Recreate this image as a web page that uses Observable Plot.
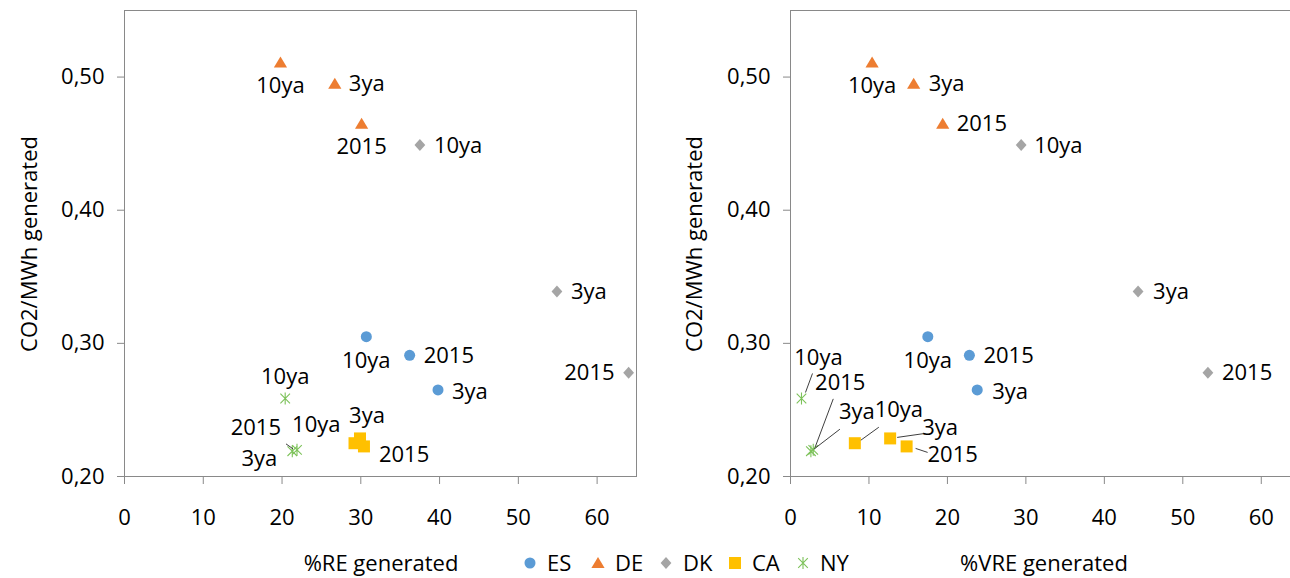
<!DOCTYPE html>
<html><head><meta charset="utf-8">
<script src="https://cdn.jsdelivr.net/npm/d3@7"></script>
<script src="https://cdn.jsdelivr.net/npm/@observablehq/plot@0.6"></script>
<style>
html,body{margin:0;padding:0;background:#fff;overflow:hidden}
#wrap{position:relative;width:1290px;height:578px;overflow:hidden;font-family:"Open Sans",sans-serif;color:#000;background:#fff}
.chart{position:absolute;top:0}
.t{position:absolute;font-size:22px;white-space:nowrap;line-height:1.1}
.leg{position:absolute;top:550px;width:64px;height:25px;font-size:22px;line-height:25px;white-space:nowrap;display:flex;align-items:center;overflow:visible}
.leg svg{margin-right:10px;flex:none}
</style></head><body><div id="wrap"></div>
<script>
// ---------------- data ----------------
const countries = ["ES", "DE", "DK", "CA", "NY"];
const periods = ["10ya", "3ya", "2015"];
// CO2 per MWh generated, [country][period]
const co2 = [
  [0.305, 0.265, 0.291],
  [0.511, 0.495, 0.465],
  [0.449, 0.339, 0.278],
  [0.225, 0.2286, 0.2226],
  [0.2586, 0.219, 0.220]
];
// % renewable energy generated
const reShare = [
  [30.7, 39.8, 36.2],
  [19.8, 26.7, 30.1],
  [37.5, 54.9, 64.0],
  [29.2, 29.9, 30.4],
  [20.4, 21.3, 21.9]
];
// % variable renewable energy generated
const vreShare = [
  [17.5, 23.8, 22.8],
  [10.4, 15.7, 19.4],
  [29.4, 44.3, 53.2],
  [8.2, 12.7, 14.8],
  [1.4, 2.6, 2.9]
];
const xTicks = [0, 10, 20, 30, 40, 50, 60];
const yTicks = [0.2, 0.3, 0.4, 0.5];
const xTitles = ["%RE generated", "%VRE generated"];
const yTitle = "CO2/MWh generated";

// ---------------- layout (label placement, px offsets) ----------------
const labelPosLeft = [
  [[0, 24, "middle"], [14, 2, "start"], [14, 1, "start"]],
  [[0, 24, "middle"], [14, 0, "start"], [0, 23, "middle"]],
  [[14, 1, "start"], [14, 1, "start"], [-14, 0, "end"]],
  [[-14, -18, "end"], [7, -22, "middle"], [15, 9, "start"]],
  [[0, -22, "middle"], [-15, 8, "end"], [-16, -22, "end"]]
];
const labelPosRight = [
  [[0, 24, "middle"], [15, 2, "start"], [14, 1, "start"]],
  [[0, 24, "middle"], [15, 0, "start"], [14, 0, "start"]],
  [[13, 1, "start"], [15, 1, "start"], [14, 0, "start"]],
  [[44, -33, "middle"], [50, -10, "middle"], [46, 9, "middle"]],
  [[17, -41, "middle"], [46, -39, "middle"], [27, -67, "middle"]]
];
// leader lines: [countryIdx, periodIdx, ox1, oy1, ox2, oy2] (px from point)
const leadersLeft = [[4, 2, -11, -6, -4, -1]];
const leadersRight = [
  [4, 0, 11, -25, 4, -6],
  [4, 2, 20, -51, 2, -3],
  [4, 1, 29, -22, 3, -2],
  [3, 0, 24, -16, 6, -3],
  [3, 1, 35, -5, 7, -1],
  [3, 2, 9, 2, 21, 6]
];

// ---------------- styles ----------------
const FS = 22;
const colors = ["#5B9BD5", "#ED7D31", "#A5A5A5", "#FFC000", "#7DC25A"];
const symCircle = {draw(c, size) { const s = Math.sqrt(size / Math.PI); c.moveTo(s * 0.92, 0); c.arc(0, 0, s * 0.92, 0, 2 * Math.PI); c.closePath(); }};
const symTri = {draw(c, size) { const s = Math.sqrt(size / Math.PI); c.moveTo(0, -s); c.lineTo(s * 1.1, s * 0.85); c.lineTo(-s * 1.1, s * 0.85); c.closePath(); }};
const symDiamond = {draw(c, size) { const s = Math.sqrt(size / Math.PI); c.moveTo(0, -s); c.lineTo(s * 0.9, 0); c.lineTo(0, s); c.lineTo(-s * 0.9, 0); c.closePath(); }};
const symSquare = {draw(c, size) { const s = Math.sqrt(size / Math.PI); c.rect(-s, -s, 2 * s, 2 * s); }};
const symStar = {draw(c, size) { const s = Math.sqrt(size / Math.PI); const d = s * 0.8;
  c.moveTo(-d, -d); c.lineTo(d, d); c.moveTo(-d, d); c.lineTo(d, -d); c.moveTo(0, -s); c.lineTo(0, s); }};
const symbols = [symCircle, symTri, symDiamond, symSquare, symStar];
const R = 6;

const H = 578, MT = 10, MB = 102;
const fmtY = d => d3.format(".2f")(d).replace(".", ",");

function makeChart(xs, labelPos, leaders, W, ML, MR) {
  const xDomain = [0, 65], yDomain = [0.2, 0.55];
  const kx = (W - ML - MR) / (xDomain[1] - xDomain[0]);
  const ky = (H - MT - MB) / (yDomain[1] - yDomain[0]);
  const rows = [];
  countries.forEach((c, i) => periods.forEach((p, j) => rows.push({c, i, p, j, x: xs[i][j], y: co2[i][j]})));
  const marks = [Plot.frame({stroke: "#898989"})];
  marks.push(Plot.axisX({ticks: xTicks, tickSize: 8, tickPadding: 25, stroke: "#898989", fill: "#000", label: null, fontSize: FS}));
  marks.push(Plot.axisY({ticks: yTicks, tickSize: 7, tickPadding: 13, tickFormat: fmtY, stroke: "#898989", fill: "#000", label: null, fontSize: FS}));
  countries.forEach((c, i) => {
    const data = rows.filter(r => r.i === i);
    if (i === 4) {
      marks.push(Plot.dot(data, {x: "x", y: "y", r: R, symbol: symbols[i], fill: "none", stroke: colors[i], strokeWidth: 1.1}));
    } else {
      marks.push(Plot.dot(data, {x: "x", y: "y", r: R, symbol: symbols[i], fill: colors[i], stroke: "none"}));
    }
  });
  const leaderRows = leaders.map(([i, j, a, b, c2, d]) => ({
    x1: xs[i][j] + a / kx, y1: co2[i][j] - b / ky,
    x2: xs[i][j] + c2 / kx, y2: co2[i][j] - d / ky
  }));
  marks.push(Plot.link(leaderRows, {x1: "x1", y1: "y1", x2: "x2", y2: "y2", stroke: "#404040", strokeWidth: 1}));
  rows.forEach(r => {
    const [dx, dy, anchor] = labelPos[r.i][r.j];
    marks.push(Plot.text([r], {x: "x", y: "y", text: "p", dx, dy, textAnchor: anchor, fontSize: FS, fill: "#000"}));
  });
  return Plot.plot({
    width: W, height: H, marginLeft: ML, marginRight: MR, marginTop: MT, marginBottom: MB,
    x: {domain: xDomain},
    y: {domain: yDomain},
    style: {fontFamily: "Open Sans, sans-serif", fontSize: FS + "px", color: "#000", background: "transparent", overflow: "visible", maxWidth: "none"},
    marks
  });
}

const wrap = document.getElementById("wrap");
const left = makeChart(reShare, labelPosLeft, leadersLeft, 645, 124, 9);
const right = makeChart(vreShare, labelPosRight, leadersRight, 655, 145, 0);
const dl = document.createElement("div"); dl.className = "chart"; dl.style.left = "0px"; dl.appendChild(left); wrap.appendChild(dl);
const dr = document.createElement("div"); dr.className = "chart"; dr.style.left = "645px"; dr.appendChild(right); wrap.appendChild(dr);

function addText(txt, x, y, rot) {
  const d = document.createElement("div");
  d.className = "t"; d.textContent = txt;
  d.style.left = x + "px"; d.style.top = y + "px";
  d.style.transform = "translate(-50%,-50%)" + (rot ? " rotate(-90deg)" : "");
  wrap.appendChild(d);
}
addText(xTitles[0], 381, 562, false);
addText(xTitles[1], 1044, 562, false);
addText(yTitle, 28, 244, true);
addText(yTitle, 693, 244, true);

// legend
const legX = [530, 598, 666, 735, 803];
countries.forEach((c, i) => {
  const d = document.createElement("div");
  d.className = "leg";
  d.style.left = (legX[i] - 7) + "px";
  const path = d3.symbol().type(symbols[i]).size(Math.PI * R * R)();
  const star = i === 4;
  d.innerHTML = `<svg width="14" height="14" viewBox="-7 -7 14 14"><path d="${path}" fill="${star ? "none" : colors[i]}" stroke="${star ? colors[i] : "none"}" stroke-width="1.1"/></svg><span>${c}</span>`;
  wrap.appendChild(d);
});
</script></body></html>
